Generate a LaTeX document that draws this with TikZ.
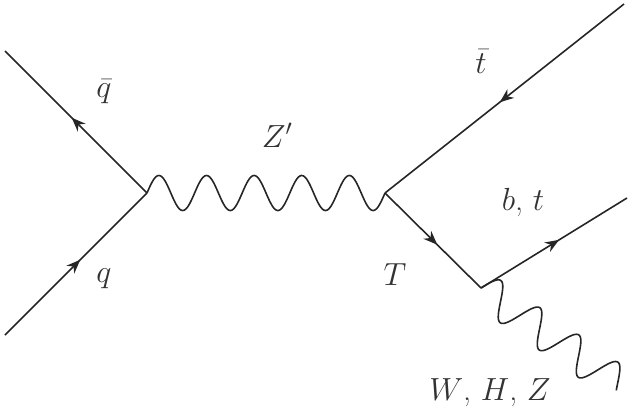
\documentclass[tikz,border=0pt]{standalone}
\usepackage{fix-cm}
\usetikzlibrary{calc,decorations.markings,arrows.meta}
\begin{document}
\begin{tikzpicture}[x=1pt,y=-1pt,
  fermion/.style={line width=1.6pt, draw=black!85, postaction={decorate},
    decoration={markings, mark=at position 0.5 with {\arrow[xshift=6pt,black!85]{Stealth[length=14pt,width=11pt]}}}},
  boson/.style={line width=1.6pt, draw=black!85, line join=round,
    to path={let \p0=(\tikztostart), \p1=($(\tikztotarget)-(\tikztostart)$),
      \n1={veclen(\x1,\y1)}, \n2={atan2(\y1,\x1)} in
      -- plot[variable=\t, domain=0:\n1, samples=240]
        ({\x0 + \t*cos(\n2) - 17.5*sin(\t/47.6*360)*sin(\n2)},
         {\y0 + \t*sin(\n2) + 17.5*sin(\t/47.6*360)*cos(\n2)})}},
  lab/.style={font=\fontsize{32}{38}\selectfont, text=black!80, inner sep=0pt, anchor=base}]
\useasboundingbox (0,0) rectangle (636,418);
\coordinate (a1) at (5,51);
\coordinate (a2) at (5,335);
\coordinate (v1) at (147,193);
\coordinate (v2) at (385,193);
\coordinate (tb) at (624,4);
\coordinate (v3) at (481,288);
\coordinate (bt) at (627,198);
\coordinate (w) at (620,385);
\draw[fermion] (v1) -- (a1);
\draw[fermion] (a2) -- (v1);
\draw[boson] (v1) to (v2);
\draw[fermion] (tb) -- (v2);
\draw[fermion] (v2) -- (v3);
\draw[fermion] (v3) -- (bt);
\draw[boson] (v3) to (w);
\node[lab] (lqb) at (104,97) {$\bar{q}$};
\node[lab] (lq) at (104,282) {$q$};
\node[lab] (lz) at (277,147) {$Z'$};
\node[lab] (lt) at (395,285) {$T$};
\node[lab] (ltb) at (481,73) {$\bar{t}$};
\node[lab] (lbt) at (523,210) {$b$, $t$};
\node[lab] (lw) at (490,400) {$W$, $H$, $Z$};
\end{tikzpicture}
\end{document}
